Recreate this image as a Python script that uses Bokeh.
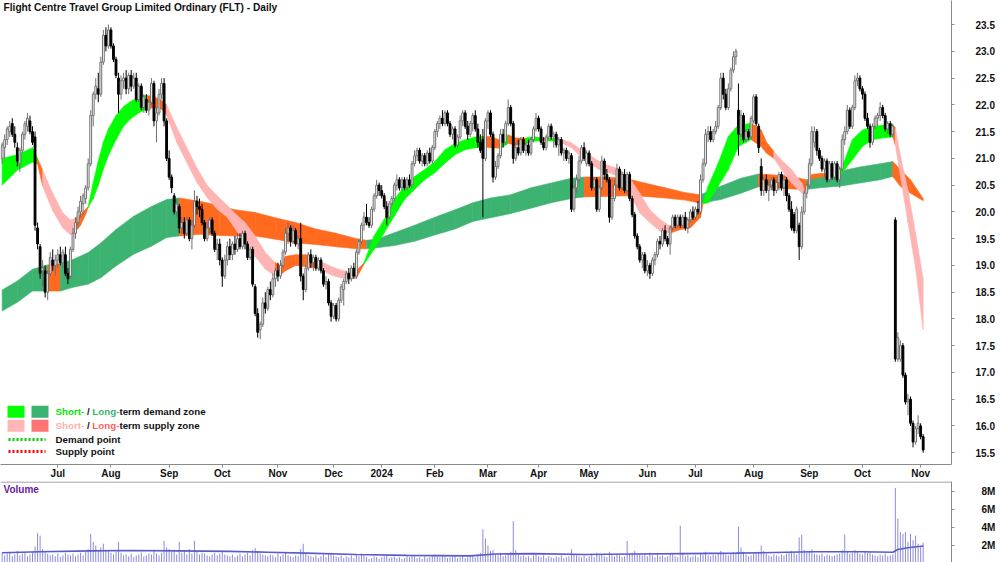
from bokeh.plotting import figure
from bokeh.layouts import column
from bokeh.models import Range1d, FixedTicker, Label, Span, NumeralTickFormatter
from bokeh.embed import file_html
from bokeh.resources import INLINE

TITLE = "Flight Centre Travel Group Limited Ordinary (FLT) - Daily"
MONTH_IDX = [22, 43, 66, 87, 109, 131, 150, 171, 192, 212, 232, 255, 274, 297, 319, 340, 363]
MONTH_LBL = ["Jul", "Aug", "Sep", "Oct", "Nov", "Dec", "2024", "Feb", "Mar", "Apr", "May",
             "Jun", "Jul", "Aug", "Sep", "Oct", "Nov"]
PRICE_TICKS = [15.5, 16.0, 16.5, 17.0, 17.5, 18.0, 18.5, 19.0, 19.5, 20.0, 20.5, 21.0, 21.5,
               22.0, 22.5, 23.0, 23.5]
VOL_TICKS = [2, 4, 6, 8]
VOL_LBL = ["2M", "4M", "6M", "8M"]

OPEN = [
    21.0, 21.2, 21.35, 21.5, 21.65, 21.45, 21.2, 20.9, 21.15, 21.45,
    21.6, 21.7, 21.5, 21.4, 19.7, 19.35, 18.9, 18.9, 18.5, 18.85,
    19.1, 19.0, 19.1, 19.2, 19.05, 19.2, 18.85, 18.8, 19.3, 19.6,
    19.8, 20.0, 20.15, 20.25, 20.45, 20.9, 21.8, 22.2, 22.3, 22.2,
    22.8, 23.3, 23.1, 23.4, 23.1, 22.85, 22.5, 22.2, 22.45, 22.5,
    22.3, 22.55, 22.35, 22.5, 22.1, 22.35, 21.95, 22.1, 21.9, 22.05,
    22.4, 21.7, 21.85, 22.2, 22.4, 21.7, 21.0, 20.65, 20.3, 20.0,
    20.1, 19.7, 19.8, 19.6, 19.85, 19.5, 19.75, 20.2, 20.1, 20.05,
    19.8, 19.5, 19.7, 19.85, 19.6, 19.3, 19.4, 19.1, 18.8, 19.1,
    19.35, 19.2, 19.4, 19.3, 19.5, 19.35, 19.6, 19.4, 19.15, 19.3,
    18.6, 18.1, 17.8, 17.9, 18.3, 18.2, 18.55, 18.45, 18.75, 18.9,
    18.8, 19.0, 19.25, 19.6, 19.7, 19.45, 19.65, 19.4, 19.5, 18.8,
    18.55, 18.95, 19.2, 19.05, 19.15, 18.95, 19.1, 18.9, 18.65, 18.7,
    18.3, 18.05, 18.25, 18.0, 18.35, 18.55, 18.7, 18.85, 18.75, 18.95,
    18.8, 19.25, 19.45, 19.75, 19.9, 19.8, 19.75, 20.05, 20.3, 20.5,
    20.4, 20.3, 20.1, 19.9, 20.15, 20.25, 20.5, 20.6, 20.45, 20.6,
    20.45, 20.6, 20.5, 20.9, 21.05, 21.15, 20.95, 21.05, 20.9, 21.1,
    20.95, 21.2, 21.5, 21.65, 21.75, 21.65, 21.85, 21.65, 21.45, 21.55,
    21.25, 21.4, 21.7, 21.85, 21.6, 21.45, 21.65, 21.8, 21.55, 21.3,
    21.35, 21.0, 21.7, 21.85, 21.45, 20.65, 20.85, 21.05, 21.45, 21.3,
    21.65, 21.95, 21.65, 21.0, 21.2, 21.1, 21.35, 21.15, 21.25, 21.1,
    21.35, 21.55, 21.75, 21.55, 21.3, 21.2, 21.4, 21.6, 21.4, 21.45,
    21.25, 21.35, 21.1, 21.15, 21.0, 21.05, 20.05, 20.45, 20.6, 20.95,
    21.2, 20.9, 21.1, 20.9, 20.45, 20.6, 20.05, 20.45, 20.95, 20.7,
    20.6, 19.9, 20.25, 20.5, 20.8, 20.45, 20.7, 20.4, 20.7, 20.25,
    19.95, 19.55, 19.35, 19.1, 19.2, 18.9, 19.0, 18.85, 19.1, 19.2,
    19.45, 19.4, 19.65, 19.5, 19.4, 19.7, 19.9, 19.75, 19.9, 19.75,
    19.9, 19.7, 19.85, 20.0, 19.9, 20.05, 20.0, 20.6, 20.9, 21.45,
    21.5, 21.35, 21.5, 21.6, 21.95, 22.5, 22.2, 21.95, 22.3, 22.65,
    22.9, 21.9, 21.45, 21.8, 21.35, 21.5, 21.4, 21.7, 22.15, 21.6,
    20.85, 20.4, 20.6, 20.4, 20.5, 20.6, 20.4, 20.55, 20.7, 20.45,
    20.6, 20.3, 20.05, 19.95, 19.65, 19.75, 19.35, 20.0, 20.35, 20.5,
    20.9, 21.3, 21.5, 21.15, 21.0, 20.8, 20.95, 20.6, 20.9, 20.65,
    20.9, 20.6, 20.8, 21.35, 21.5, 21.9, 21.6, 21.95, 22.45, 22.5,
    22.3, 22.2, 21.75, 21.6, 21.3, 21.6, 21.75, 21.8, 21.95, 21.8,
    21.55, 21.65, 21.45, 19.85, 17.25, 17.25, 17.5, 16.95, 16.45, 16.5,
    16.05, 15.7, 15.95, 16.0, 15.8,
]
HIGH = [
    21.3, 21.45, 21.6, 21.7, 21.75, 21.6, 21.3, 21.2, 21.5, 21.7,
    21.85, 21.8, 21.6, 21.5, 19.8, 19.4, 19.1, 19.0, 18.9, 19.25,
    19.3, 19.2, 19.3, 19.35, 19.3, 19.35, 18.95, 19.35, 19.7, 19.9,
    20.1, 20.3, 20.35, 20.5, 21.0, 21.9, 22.25, 22.5, 22.6, 22.9,
    23.4, 23.45, 23.5, 23.45, 23.15, 22.9, 22.6, 22.55, 22.6, 22.65,
    22.6, 22.65, 22.6, 22.6, 22.4, 22.4, 22.2, 22.2, 22.1, 22.5,
    22.45, 21.95, 22.3, 22.5, 22.5, 21.75, 21.15, 20.7, 20.35, 20.25,
    20.15, 19.9, 19.9, 19.9, 19.9, 19.85, 20.4, 20.3, 20.25, 20.15,
    19.85, 19.8, 19.9, 19.9, 19.65, 19.5, 19.5, 19.15, 19.2, 19.45,
    19.5, 19.45, 19.55, 19.6, 19.6, 19.65, 19.65, 19.45, 19.35, 19.35,
    18.65, 18.2, 17.95, 18.4, 18.5, 18.6, 18.7, 18.85, 18.95, 19.05,
    19.1, 19.3, 19.7, 19.8, 19.75, 19.75, 19.7, 19.55, 19.8, 18.85,
    19.0, 19.25, 19.3, 19.2, 19.2, 19.15, 19.15, 18.95, 18.8, 18.75,
    18.35, 18.3, 18.3, 18.4, 18.65, 18.75, 18.9, 18.95, 19.0, 19.05,
    19.3, 19.5, 19.8, 20.0, 20.15, 19.9, 20.1, 20.35, 20.6, 20.55,
    20.5, 20.35, 20.2, 20.2, 20.3, 20.55, 20.7, 20.65, 20.65, 20.65,
    20.65, 20.7, 20.95, 21.15, 21.2, 21.2, 21.1, 21.1, 21.15, 21.2,
    21.25, 21.55, 21.7, 21.8, 21.9, 21.9, 21.9, 21.7, 21.6, 21.6,
    21.45, 21.8, 21.9, 21.9, 21.7, 21.7, 21.85, 21.9, 21.65, 21.45,
    21.55, 21.75, 21.9, 21.9, 21.5, 20.95, 21.1, 21.55, 21.55, 21.7,
    22.1, 22.0, 21.7, 21.3, 21.35, 21.4, 21.4, 21.3, 21.35, 21.4,
    21.6, 21.85, 21.8, 21.6, 21.4, 21.45, 21.65, 21.65, 21.5, 21.5,
    21.4, 21.4, 21.2, 21.2, 21.15, 21.1, 20.5, 20.7, 21.05, 21.25,
    21.3, 21.15, 21.15, 20.95, 20.65, 20.65, 20.5, 21.05, 21.0, 20.8,
    20.65, 20.3, 20.6, 20.9, 20.85, 20.75, 20.8, 20.75, 20.75, 20.3,
    20.0, 19.6, 19.4, 19.25, 19.25, 19.1, 19.05, 19.15, 19.25, 19.5,
    19.55, 19.7, 19.75, 19.55, 19.75, 19.95, 19.95, 19.95, 19.95, 19.95,
    20.0, 19.9, 20.05, 20.1, 20.1, 20.2, 20.7, 21.0, 21.55, 21.6,
    21.6, 21.55, 21.7, 22.0, 22.6, 22.6, 22.3, 22.4, 22.7, 23.0,
    23.05, 22.4, 21.9, 21.85, 21.55, 21.55, 21.8, 22.2, 22.2, 21.65,
    21.0, 20.65, 20.7, 20.6, 20.65, 20.65, 20.6, 20.75, 20.75, 20.7,
    20.65, 20.35, 20.2, 20.0, 20.1, 19.8, 20.1, 20.4, 20.55, 21.0,
    21.6, 21.6, 21.55, 21.2, 21.05, 21.0, 21.0, 20.95, 20.95, 20.95,
    20.95, 20.85, 21.45, 21.6, 22.0, 21.95, 22.0, 22.55, 22.6, 22.55,
    22.35, 22.25, 21.85, 21.65, 21.65, 21.8, 21.85, 22.05, 22.0, 21.85,
    21.7, 21.7, 21.65, 19.9, 17.75, 17.6, 17.55, 17.0, 16.6, 16.55,
    16.1, 16.0, 16.2, 16.05, 15.85,
]
LOW = [
    20.9, 21.0, 21.25, 21.4, 21.4, 21.2, 20.85, 20.75, 21.1, 21.35,
    21.5, 21.45, 21.25, 19.65, 19.3, 18.75, 18.6, 18.4, 18.35, 18.8,
    18.9, 18.8, 18.95, 19.0, 18.95, 18.8, 18.65, 18.75, 19.25, 19.5,
    19.7, 19.9, 19.95, 20.15, 20.4, 20.85, 21.6, 22.1, 22.05, 22.15,
    22.75, 23.0, 23.05, 23.05, 22.8, 22.5, 21.85, 22.1, 22.3, 22.2,
    22.2, 22.25, 22.3, 22.05, 22.05, 21.9, 21.85, 21.85, 21.8, 22.0,
    21.6, 21.3, 21.8, 22.1, 21.6, 20.95, 20.6, 20.35, 19.95, 19.9,
    19.6, 19.6, 19.5, 19.55, 19.45, 19.3, 19.7, 19.95, 19.9, 19.75,
    19.45, 19.45, 19.6, 19.55, 19.25, 19.1, 19.0, 18.6, 18.75, 19.0,
    19.1, 19.1, 19.2, 19.25, 19.3, 19.3, 19.3, 19.1, 19.1, 18.6,
    18.05, 17.65, 17.62, 17.85, 18.1, 18.15, 18.35, 18.4, 18.6, 18.7,
    18.75, 18.95, 19.2, 19.4, 19.35, 19.4, 19.35, 19.3, 18.7, 18.35,
    18.5, 18.9, 18.95, 18.9, 18.9, 18.9, 18.85, 18.6, 18.55, 18.25,
    17.95, 18.0, 17.95, 17.95, 18.3, 18.25, 18.65, 18.65, 18.7, 18.75,
    18.75, 19.2, 19.4, 19.65, 19.75, 19.7, 19.7, 20.0, 20.25, 20.3,
    20.25, 20.05, 19.75, 19.85, 20.1, 20.2, 20.4, 20.4, 20.4, 20.4,
    20.4, 20.45, 20.45, 20.85, 20.95, 20.9, 20.85, 20.85, 20.85, 20.9,
    20.9, 21.15, 21.4, 21.55, 21.6, 21.6, 21.6, 21.4, 21.35, 21.2,
    21.2, 21.35, 21.6, 21.55, 21.35, 21.4, 21.5, 21.5, 21.2, 21.1,
    19.9, 20.95, 21.55, 21.4, 20.55, 20.6, 20.8, 21.0, 21.2, 21.25,
    21.6, 21.6, 20.9, 20.95, 21.05, 21.05, 21.1, 21.05, 21.05, 21.05,
    21.3, 21.5, 21.5, 21.25, 21.15, 21.15, 21.35, 21.35, 21.2, 21.2,
    21.05, 21.05, 20.95, 20.95, 20.9, 20.0, 20.0, 20.35, 20.55, 20.9,
    20.95, 20.85, 20.85, 20.4, 20.4, 20.0, 20.0, 20.4, 20.6, 20.55,
    19.8, 19.85, 20.2, 20.45, 20.4, 20.4, 20.35, 20.35, 20.2, 19.9,
    19.5, 19.3, 19.05, 18.95, 18.85, 18.8, 18.75, 18.8, 19.0, 19.15,
    19.3, 19.35, 19.45, 19.35, 19.2, 19.65, 19.7, 19.7, 19.7, 19.7,
    19.65, 19.6, 19.8, 19.85, 19.85, 19.95, 19.95, 20.55, 20.85, 21.3,
    21.3, 21.3, 21.45, 21.55, 21.9, 22.1, 21.9, 21.9, 22.25, 22.6,
    22.75, 21.05, 21.4, 21.3, 21.3, 21.35, 21.35, 21.65, 21.6, 21.1,
    20.3, 20.3, 20.35, 20.2, 20.4, 20.3, 20.35, 20.4, 20.4, 20.3,
    20.2, 20.0, 19.65, 19.6, 19.6, 19.1, 19.3, 19.95, 20.25, 20.45,
    20.85, 21.2, 21.05, 20.95, 20.75, 20.65, 20.55, 20.55, 20.6, 20.6,
    20.55, 20.45, 20.75, 21.25, 21.45, 21.55, 21.55, 21.9, 22.35, 22.25,
    22.1, 21.7, 21.55, 21.2, 21.25, 21.55, 21.6, 21.7, 21.75, 21.5,
    21.45, 21.4, 21.4, 17.2, 17.2, 17.2, 16.9, 16.4, 16.2, 16.0,
    15.6, 15.65, 15.85, 15.75, 15.5,
]
CLOSE = [
    21.25, 21.35, 21.55, 21.6, 21.45, 21.3, 20.95, 21.15, 21.45, 21.65,
    21.75, 21.5, 21.3, 19.75, 19.4, 18.85, 18.95, 18.5, 18.85, 19.15,
    19.0, 19.1, 19.2, 19.05, 19.25, 18.85, 18.75, 19.3, 19.6, 19.8,
    20.0, 20.2, 20.3, 20.45, 20.9, 21.8, 22.2, 22.35, 22.2, 22.8,
    23.3, 23.1, 23.4, 23.1, 22.85, 22.55, 22.2, 22.45, 22.5, 22.3,
    22.55, 22.35, 22.5, 22.1, 22.35, 21.95, 22.15, 21.9, 22.05, 22.4,
    21.7, 21.85, 22.2, 22.4, 21.7, 21.0, 20.65, 20.45, 20.0, 20.15,
    19.7, 19.8, 19.6, 19.85, 19.5, 19.75, 20.2, 20.1, 20.05, 19.8,
    19.5, 19.7, 19.85, 19.6, 19.3, 19.4, 19.1, 18.8, 19.1, 19.35,
    19.2, 19.4, 19.3, 19.5, 19.35, 19.6, 19.4, 19.15, 19.3, 18.65,
    18.1, 17.75, 17.9, 18.3, 18.2, 18.55, 18.45, 18.75, 18.9, 18.8,
    19.0, 19.25, 19.6, 19.7, 19.45, 19.65, 19.4, 19.5, 18.8, 18.55,
    18.95, 19.2, 19.05, 19.15, 18.95, 19.1, 18.9, 18.65, 18.7, 18.3,
    18.05, 18.25, 18.0, 18.35, 18.6, 18.7, 18.85, 18.75, 18.95, 18.8,
    19.25, 19.45, 19.75, 19.9, 19.8, 19.75, 20.05, 20.3, 20.5, 20.4,
    20.3, 20.1, 19.9, 20.15, 20.25, 20.5, 20.6, 20.45, 20.6, 20.45,
    20.6, 20.5, 20.9, 21.05, 21.15, 20.95, 21.05, 20.9, 21.1, 20.95,
    21.2, 21.5, 21.65, 21.75, 21.65, 21.85, 21.65, 21.45, 21.55, 21.25,
    21.4, 21.7, 21.85, 21.6, 21.45, 21.65, 21.8, 21.55, 21.3, 21.15,
    21.0, 21.7, 21.85, 21.45, 20.65, 20.85, 21.05, 21.45, 21.3, 21.65,
    21.95, 21.65, 21.0, 21.2, 21.1, 21.35, 21.15, 21.25, 21.1, 21.35,
    21.55, 21.75, 21.55, 21.3, 21.2, 21.4, 21.6, 21.4, 21.45, 21.25,
    21.35, 21.1, 21.15, 21.0, 21.1, 20.05, 20.45, 20.6, 20.95, 21.2,
    21.0, 21.1, 20.9, 20.45, 20.6, 20.05, 20.45, 20.95, 20.7, 20.6,
    19.9, 20.25, 20.5, 20.8, 20.45, 20.7, 20.4, 20.7, 20.25, 19.95,
    19.55, 19.35, 19.1, 19.2, 18.9, 19.0, 18.85, 19.1, 19.2, 19.45,
    19.4, 19.65, 19.5, 19.4, 19.7, 19.9, 19.75, 19.9, 19.75, 19.9,
    19.7, 19.85, 20.0, 19.9, 20.05, 20.0, 20.6, 20.9, 21.45, 21.5,
    21.35, 21.5, 21.6, 21.95, 22.5, 22.2, 21.95, 22.3, 22.65, 22.9,
    23.0, 21.45, 21.8, 21.35, 21.5, 21.4, 21.75, 22.15, 21.65, 21.2,
    20.4, 20.6, 20.4, 20.5, 20.6, 20.4, 20.55, 20.7, 20.45, 20.6,
    20.3, 20.05, 19.7, 19.65, 20.05, 19.35, 20.0, 20.35, 20.5, 20.9,
    21.5, 21.5, 21.15, 21.0, 20.8, 20.95, 20.6, 20.9, 20.65, 20.9,
    20.6, 20.8, 21.35, 21.5, 21.9, 21.6, 21.95, 22.45, 22.5, 22.3,
    22.2, 21.75, 21.6, 21.3, 21.6, 21.75, 21.8, 21.95, 21.8, 21.55,
    21.65, 21.45, 21.6, 17.25, 17.65, 17.5, 16.95, 16.45, 16.5, 16.05,
    15.7, 15.95, 16.05, 15.8, 15.55,
]
VOLUME_M = [
    1.2, 0.9, 1.1, 1.3, 0.8, 1.0, 1.4, 0.9, 1.1, 1.2,
    0.8, 1.0, 1.3, 1.9, 3.4, 3.1, 1.6, 1.3, 1.1, 0.9,
    1.0, 0.8, 1.1, 0.7, 0.9, 1.2, 1.0, 0.9, 1.1, 0.8,
    1.0, 1.2, 0.9, 1.3, 1.6, 3.3, 2.4, 2.0, 1.4, 1.8,
    2.2, 1.5, 1.4, 1.2, 1.0, 1.3, 2.4, 1.2, 0.9, 1.0,
    0.8, 1.1, 0.7, 0.9, 1.0, 1.2, 0.8, 0.9, 1.1, 1.0,
    1.4, 1.1, 0.9, 1.2, 2.5, 1.8, 1.6, 1.3, 1.5, 1.0,
    2.4, 1.2, 1.4, 1.0, 1.6, 1.1, 2.5, 1.3, 1.0, 1.2,
    1.1, 0.9, 0.8, 1.0, 1.2, 0.9, 1.1, 1.4, 1.0, 0.9,
    0.8, 1.0, 0.7, 0.9, 1.1, 0.8, 1.0, 1.2, 0.9, 1.5,
    1.7, 1.4, 1.1, 1.0, 0.9, 0.8, 1.0, 0.9, 0.7, 1.1,
    0.8, 1.0, 1.2, 0.9, 0.8, 0.7, 0.9, 0.8, 1.6, 2.2,
    1.2, 0.9, 0.8, 0.7, 0.9, 0.6, 0.8, 1.0, 0.7, 1.1,
    1.2, 0.9, 0.8, 0.7, 0.9, 0.6, 0.8, 0.7, 0.9, 0.6,
    1.0, 0.8, 1.1, 0.9, 0.7, 0.5, 0.6, 0.8, 0.7, 0.5,
    0.7, 0.8, 0.9, 0.6, 0.7, 0.8, 0.6, 0.7, 0.5, 0.6,
    0.8, 0.7, 0.9, 0.8, 0.6, 0.7, 0.5, 0.8, 0.6, 0.7,
    0.9, 1.0, 0.8, 0.7, 0.9, 0.8, 0.6, 0.7, 0.8, 0.9,
    0.6, 0.7, 0.8, 0.6, 0.7, 0.8, 0.9, 0.7, 1.0, 1.2,
    3.8, 2.8, 2.0, 1.4, 1.5, 1.0, 0.9, 1.2, 0.8, 0.9,
    1.1, 1.3, 4.7, 1.5, 1.0, 0.8, 0.9, 0.7, 0.8, 0.6,
    0.9, 1.0, 0.8, 0.7, 0.9, 0.6, 0.8, 0.7, 0.6, 0.8,
    0.7, 0.9, 0.6, 0.7, 0.8, 1.6, 1.1, 0.9, 0.8, 0.7,
    0.9, 0.6, 0.8, 1.1, 0.7, 1.2, 0.9, 1.0, 0.8, 0.7,
    1.3, 0.9, 0.8, 1.0, 0.9, 0.7, 0.8, 2.5, 1.1, 1.2,
    1.4, 1.0, 1.1, 0.9, 1.0, 0.8, 1.2, 0.9, 0.7, 1.0,
    0.8, 0.9, 0.7, 0.8, 1.1, 1.0, 0.8, 0.7, 4.2, 1.2,
    0.8, 0.9, 0.7, 0.8, 0.9, 0.7, 1.1, 1.0, 1.3, 0.9,
    0.8, 1.0, 0.9, 1.1, 1.4, 1.2, 1.0, 0.9, 1.1, 1.3,
    1.2, 4.1, 1.8, 1.3, 1.0, 0.8, 0.9, 1.1, 1.2, 1.3,
    2.0, 1.4, 1.1, 0.9, 0.8, 1.0, 0.9, 0.8, 1.0, 0.9,
    1.1, 1.2, 1.4, 1.2, 1.0, 2.9, 3.2, 1.5, 1.2, 1.4,
    1.6, 1.1, 1.0, 0.9, 1.1, 0.8, 1.0, 0.9, 0.8, 0.9,
    1.0, 1.1, 1.5, 3.2, 1.4, 1.1, 1.2, 1.5, 1.3, 1.1,
    1.0, 1.4, 1.2, 1.3, 1.0, 0.9, 0.8, 1.0, 0.9, 1.1,
    0.8, 0.9, 1.0, 8.4, 5.0, 3.5, 3.3, 3.5, 2.4, 3.3,
    2.6, 3.1, 2.2, 1.9, 2.3,
]
# volume moving average, read at sample bars (millions)
VMA_IDX = [0, 15, 35, 50, 70, 90, 105, 120, 140, 160, 185, 195, 210, 230, 250, 270, 290,
           300, 320, 340, 352, 354, 358, 364]
VMA_VAL = [1.2, 1.3, 1.4, 1.45, 1.4, 1.35, 1.25, 1.15, 1.0, 0.9, 0.85, 1.05, 1.1, 1.0, 1.05,
           1.1, 1.15, 1.2, 1.3, 1.3, 1.25, 1.55, 1.75, 1.95]

# short-term zone: sample bar, upper edge, lower edge, state of following segment
SR_IDX = [0, 6, 12, 14, 16, 20, 24, 27, 29, 31, 33, 34, 36, 38, 40, 42, 45, 48, 51, 54,
          57, 60, 63, 65, 69, 73, 77, 81, 85, 89, 93, 96, 100, 104, 108, 110, 112, 116, 120, 124,
          127, 130, 133, 137, 140, 143, 147, 151, 155, 159, 163, 167, 171, 175, 179, 183, 187, 190, 193, 197,
          200, 203, 207, 210, 213, 215, 219, 222, 225, 228, 232, 236, 240, 244, 248, 252, 256, 260, 264, 268,
          272, 276, 277, 279, 283, 287, 291, 294, 296, 300, 302, 305, 308, 312, 316, 317, 320, 324, 327, 330,
          332, 336, 340, 344, 348, 352, 353, 355, 358, 361, 364]
SR_UP = [21.0, 21.07, 21.2, 21.0, 20.78, 20.35, 19.98, 19.85, 19.88, 19.95, 20.05, 20.1, 20.55, 20.95, 21.3, 21.55, 21.8, 21.97, 22.07, 22.15,
         22.18, 22.15, 22.08, 22.0, 21.58, 21.2, 20.82, 20.5, 20.3, 20.12, 19.93, 19.8, 19.55, 19.24, 19.05, 19.0, 19.17, 19.2, 19.2, 19.12,
         19.05, 18.98, 18.93, 18.87, 18.9, 19.05, 19.55, 19.86, 20.23, 20.48, 20.66, 20.79, 20.94, 21.16, 21.28, 21.35, 21.4, 21.41, 21.41, 21.34,
         21.44, 21.38, 21.38, 21.41, 21.38, 21.38, 21.37, 21.34, 21.29, 21.19, 21.07, 20.94, 20.86, 20.8, 20.63, 20.35, 20.04, 19.86, 19.73, 19.83,
         19.86, 20.04, 20.17, 20.48, 20.91, 21.41, 21.63, 21.64, 21.66, 21.53, 21.31, 21.13, 20.97, 20.79, 20.54, 20.4, 20.7, 20.72, 20.7, 20.75,
         20.85, 21.35, 21.53, 21.59, 21.62, 21.62, 21.58, 21.05, 20.4, 19.6, 18.75]
SR_LO = [20.5, 20.78, 20.93, 20.9, 20.48, 20.02, 19.7, 19.57, 19.63, 19.75, 19.95, 20.08, 20.25, 20.5, 20.8, 21.05, 21.35, 21.6, 21.75, 21.85,
         21.92, 21.95, 21.92, 21.8, 21.3, 20.92, 20.55, 20.27, 20.05, 19.9, 19.62, 19.5, 19.17, 18.93, 18.8, 18.82, 18.9, 19.0, 18.98, 18.95,
         18.9, 18.82, 18.78, 18.74, 18.76, 19.02, 19.3, 19.61, 19.92, 20.23, 20.42, 20.6, 20.73, 20.91, 21.07, 21.16, 21.2, 21.22, 21.2, 21.19,
         21.28, 21.25, 21.27, 21.32, 21.33, 21.33, 21.32, 21.27, 21.2, 21.07, 20.91, 20.79, 20.73, 20.65, 20.35, 19.98, 19.8, 19.64, 19.6, 19.67,
         19.7, 19.9, 20.15, 20.17, 20.48, 20.79, 21.22, 21.3, 21.35, 21.22, 21.1, 21.0, 20.79, 20.54, 20.35, 20.36, 20.62, 20.65, 20.66, 20.68,
         20.73, 20.97, 21.22, 21.35, 21.38, 21.4, 21.25, 20.68, 19.8, 18.95, 17.8]
SR_ST = ["G", "G", "G", "O", "P", "P", "P", "P", "O", "O", "O", "G", "G", "G", "G", "G", "G", "G", "G", "G",
         "O", "O", "O", "P", "P", "P", "P", "P", "P", "P", "P", "P", "P", "P", "O", "O", "O", "O", "O", "P",
         "P", "P", "P", "P", "O", "G", "G", "G", "G", "G", "G", "G", "G", "G", "G", "G", "G", "O", "O", "G",
         "O", "O", "G", "G", "O", "G", "P", "P", "P", "P", "P", "P", "P", "P", "P", "P", "P", "P", "O", "O",
         "O", "O", "G", "G", "G", "G", "G", "G", "O", "O", "O", "P", "P", "P", "P", "O", "O", "O", "G", "G",
         "G", "G", "G", "G", "G", "O", "P", "P", "P", "P", "P"]

# long-term zone
LR_IDX = [0, 6, 12, 18, 23, 28, 34, 39, 45, 52, 59, 65, 70, 78, 86, 92, 100, 108, 116, 124,
          132, 140, 144, 148, 155, 163, 171, 179, 186, 193, 201, 209, 217, 225, 230, 238, 246, 254, 262, 270,
          276, 284, 292, 299, 305, 312, 318, 323, 331, 339, 347, 352, 355, 359, 364]
LR_UP = [18.54, 18.71, 18.93, 19.01, 19.03, 19.11, 19.24, 19.42, 19.67, 19.92, 20.1, 20.23, 20.26, 20.2, 20.12, 20.04, 19.99, 19.89, 19.8, 19.68,
         19.6, 19.5, 19.47, 19.49, 19.61, 19.75, 19.9, 20.04, 20.17, 20.26, 20.32, 20.45, 20.54, 20.63, 20.65, 20.65, 20.63, 20.54, 20.45, 20.36,
         20.32, 20.48, 20.63, 20.71, 20.69, 20.66, 20.6, 20.66, 20.76, 20.84, 20.9, 20.94, 20.79, 20.6, 20.25]
LR_LO = [18.15, 18.31, 18.52, 18.52, 18.52, 18.59, 18.65, 18.77, 18.99, 19.21, 19.36, 19.52, 19.55, 19.58, 19.56, 19.55, 19.55, 19.49, 19.42, 19.39,
         19.35, 19.31, 19.31, 19.33, 19.37, 19.45, 19.57, 19.68, 19.82, 19.89, 19.97, 20.07, 20.17, 20.25, 20.28, 20.29, 20.3, 20.29, 20.26, 20.22,
         20.16, 20.23, 20.35, 20.47, 20.45, 20.43, 20.42, 20.45, 20.48, 20.54, 20.6, 20.66, 20.48, 20.35, 20.21]
LR_ST = ["D", "D", "D", "S", "D", "D", "D", "D", "D", "D", "D", "D", "S", "S", "S", "S", "S", "S", "S", "S",
         "S", "S", "D", "D", "D", "D", "D", "D", "D", "D", "D", "D", "D", "D", "S", "S", "S", "S", "S", "S",
         "D", "D", "D", "S", "S", "S", "D", "D", "D", "D", "D", "S", "S", "S", "S"]

# ---------------------------------------------------------------- layout
FONT = "Liberation Sans"
FW, FH = 951, 466
X_LO, X_HI = -0.65, 375.2
Y_LO, Y_HI = 15.28, 23.95
VH = 81
VY_LO, VY_HI = 0.111, 9.111


def sx(px):
    return X_LO + px * (X_HI - X_LO) / FW


def sy(py):
    return Y_HI - py * (Y_HI - Y_LO) / FH


def vy(py):
    return VY_HI - py * (VY_HI - VY_LO) / VH


N = len(CLOSE)
IDX = list(range(N))

p = figure(width=1000, height=481, x_range=Range1d(X_LO, X_HI), y_range=Range1d(Y_LO, Y_HI),
           output_backend="svg", toolbar_location=None, y_axis_location="right",
           min_border_left=0, min_border_right=49, min_border_top=0, min_border_bottom=15,
           background_fill_color="white", border_fill_color="white")
p.outline_line_color = None
p.xgrid.visible = False
p.ygrid.visible = False

ZCOL_S = {"G": "#00ff00", "P": "#ffb4b4", "O": "#ff6a1f"}
ZCOL_L = {"D": "#3cb371", "S": "#ff6a1f"}


def ribbon(fig, idx, up, lo, st, cmap):
    xs, ys, cs = [], [], []
    for i in range(len(idx) - 1):
        xs.append([idx[i], idx[i + 1], idx[i + 1], idx[i]])
        ys.append([up[i], up[i + 1], lo[i + 1], lo[i]])
        cs.append(cmap[st[i]])
    fig.patches(xs, ys, fill_color=cs, line_color=cs, line_width=0.6)


ribbon(p, LR_IDX, LR_UP, LR_LO, LR_ST, ZCOL_L)
ribbon(p, SR_IDX, SR_UP, SR_LO, SR_ST, ZCOL_S)

up_bar = [c >= o for o, c in zip(OPEN, CLOSE)]
wick_col = ["#6f6f6f" if u else "#000000" for u in up_bar]
body_fill = ["#ffffff" if u else "#000000" for u in up_bar]
body_top = [max(o, c) for o, c in zip(OPEN, CLOSE)]
body_bot = [min(o, c) for o, c in zip(OPEN, CLOSE)]
p.segment(IDX, LOW, IDX, HIGH, line_color=wick_col, line_width=1)
p.vbar(x=IDX, width=0.72, top=body_top, bottom=body_bot, fill_color=body_fill,
       line_color=wick_col, line_width=1)

# axes
xa = p.xaxis[0]
xa.ticker = FixedTicker(ticks=MONTH_IDX)
xa.major_label_overrides = {m: l for m, l in zip(MONTH_IDX, MONTH_LBL)}
xa.major_label_text_align = "left"
xa.major_label_text_font = FONT
xa.major_label_text_font_style = "bold"
xa.major_label_text_font_size = "10px"
xa.major_label_text_color = "#111111"
xa.major_label_standoff = 0
xa.major_tick_out = 3
xa.major_tick_in = 0
xa.minor_tick_out = 0
xa.minor_tick_in = 0
xa.axis_line_color = "#8a8a8a"
xa.major_tick_line_color = "#8a8a8a"

ya = p.yaxis[0]
ya.ticker = FixedTicker(ticks=PRICE_TICKS)
ya.formatter = NumeralTickFormatter(format="0.0")
ya.major_label_text_font = FONT
ya.major_label_text_font_style = "bold"
ya.major_label_text_font_size = "10px"
ya.major_label_text_color = "#111111"
ya.major_label_standoff = 21
ya.major_tick_out = 3
ya.major_tick_in = 0
ya.minor_tick_out = 0
ya.minor_tick_in = 0
ya.axis_line_color = "#8a8a8a"
ya.major_tick_line_color = "#8a8a8a"

# title
p.add_layout(Label(x=sx(3), y=sy(7), text=TITLE, text_font=FONT, text_font_style="bold",
                   text_font_size="10.2px", text_color="#111111", text_baseline="middle"))

# legend
LFS = 9.75
box_rows = [(407, 419, "#00ff00", "#3cb371"), (421, 433, "#ffb6b6", "#ff7575")]
for top, bot, c1, c2 in box_rows:
    p.quad(left=sx(7), right=sx(24), top=sy(top), bottom=sy(bot), fill_color=c1, line_color=None)
    p.quad(left=sx(31), right=sx(48), top=sy(top), bottom=sy(bot), fill_color=c2, line_color=None)
p.line([sx(8), sx(45)], [sy(441)] * 2, line_color="#00cc00", line_width=3, line_dash="2 2")
p.line([sx(8), sx(45)], [sy(453)] * 2, line_color="#ff0000", line_width=3, line_dash="2 2")

W_SHORT, W_SPACE, W_SLASH, W_LONG = 2.944, 0.278, 0.278, 2.777
legend_rows = [(413, "#00e600", "#3cb371", "term demand zone"),
               (427, "#ffb0b0", "#ff6060", "term supply zone")]
for yy, c1, c2, rest in legend_rows:
    x0 = 55
    pieces = [(x0, "Short-", c1),
              (x0 + (W_SHORT + W_SPACE) * LFS, "/", "#111111"),
              (x0 + (W_SHORT + 2 * W_SPACE + W_SLASH) * LFS, "Long-", c2),
              (x0 + (W_SHORT + 2 * W_SPACE + W_SLASH + W_LONG) * LFS, rest, "#111111")]
    for px_, t, c in pieces:
        p.add_layout(Label(x=sx(px_), y=sy(yy), text=t, text_font=FONT, text_font_style="bold",
                           text_font_size=f"{LFS}px", text_color=c, text_baseline="middle"))
for yy, t in [(441, "Demand point"), (453, "Supply point")]:
    p.add_layout(Label(x=sx(55), y=sy(yy), text=t, text_font=FONT, text_font_style="bold",
                       text_font_size=f"{LFS}px", text_color="#111111", text_baseline="middle"))

# ---------------------------------------------------------------- volume panel
v = figure(width=1000, height=VH, x_range=p.x_range, y_range=Range1d(VY_LO, VY_HI),
           output_backend="svg", toolbar_location=None, y_axis_location="right",
           x_axis_location=None, min_border_left=0, min_border_right=49, min_border_top=0,
           min_border_bottom=0, background_fill_color="white", border_fill_color="white")
v.outline_line_color = None
v.xgrid.visible = False
v.ygrid.visible = False
v.segment(IDX, [0] * N, IDX, VOLUME_M, line_color="#8b8be0", line_width=1)
v.line(VMA_IDX, VMA_VAL, line_color="#5a5acb", line_width=1.6)
v.add_layout(Span(location=VY_HI - 0.06, dimension="width", line_color="#8a8a8a", line_width=1))
v.add_layout(Label(x=sx(3), y=vy(8), text="Volume", text_font=FONT, text_font_style="bold",
                   text_font_size="10px", text_color="#6a1a9a", text_baseline="middle"))
va = v.yaxis[0]
va.ticker = FixedTicker(ticks=VOL_TICKS)
va.major_label_overrides = {t: l for t, l in zip(VOL_TICKS, VOL_LBL)}
va.major_label_text_font = FONT
va.major_label_text_font_style = "bold"
va.major_label_text_font_size = "10px"
va.major_label_text_color = "#111111"
va.major_label_standoff = 27
va.major_tick_out = 3
va.major_tick_in = 0
va.minor_tick_out = 0
va.minor_tick_in = 0
va.axis_line_color = "#8a8a8a"
va.major_tick_line_color = "#8a8a8a"

layout = column(p, v, spacing=0)
open("out.html", "w").write(file_html(layout, INLINE))
